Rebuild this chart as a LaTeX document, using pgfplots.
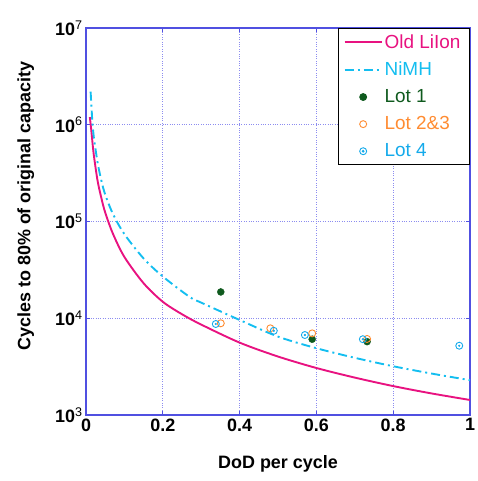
\documentclass[border=0pt]{standalone}
\usepackage{pgfplots}
\pgfplotsset{compat=1.18}
\usetikzlibrary{calc}
\usepackage{fontspec}
\setmainfont{Liberation Sans}
\definecolor{oldli}{RGB}{232,18,128}
\definecolor{nimh}{RGB}{20,190,240}
\definecolor{lotone}{RGB}{15,90,30}
\definecolor{lottwo}{RGB}{255,140,50}
\definecolor{lotfour}{RGB}{20,170,235}
\definecolor{axblue}{RGB}{80,80,225}
\definecolor{gridblue}{RGB}{140,140,240}
\pgfplotsset{
  markleg/.style={legend image code/.code={\draw[##1] plot coordinates {(18.5bp,0bp)};}},
  dotleg/.style={legend image code/.code={\draw[##1] plot coordinates {(18.5bp,0bp)}; \fill[lotfour] (18.5bp,0bp) circle (0.9bp);}},
}
\begin{document}
\begin{tikzpicture}
\begin{axis}[
  scale only axis, width=384bp, height=387bp,
  ymode=log, xmin=0, xmax=1, ymin=1e3, ymax=1e7,
  xtick={0,0.2,0.4,0.6,0.8,1}, xticklabels={0,0.2,0.4,0.6,0.8,1},
  ytick={1e3,1e4,1e5,1e6,1e7},
  yticklabels={10\textsuperscript{\mdseries 3},10\textsuperscript{\mdseries 4},10\textsuperscript{\mdseries 5},10\textsuperscript{\mdseries 6},10\textsuperscript{\mdseries 7}},
  /pgf/number format/assume math mode=true,
  ticklabel style={font=\bfseries\fontsize{18}{20}\selectfont},
  grid=major, major grid style={dotted, gridblue, line width=0.8pt},
  axis line style={axblue, line width=1.2pt},
  tick style={axblue, line width=1pt}, major tick length=4bp, minor tick length=0pt, tick align=inside,
  xlabel={DoD per cycle}, ylabel={Cycles to 80\% of original capacity},
  label style={font=\bfseries\fontsize{18}{20}\selectfont},
  xlabel style={at={(axis description cs:0.5,-0.127)}, anchor=center},
  ylabel style={at={(axis description cs:-0.157,0.54)}, anchor=center},
  legend style={at={(1,1)}, anchor=north east, draw=black, line width=0.8pt,
    font=\fontsize{19}{21}\selectfont, inner xsep=5bp, inner ysep=4bp, row sep=8.5bp},
  legend cell align=left,
  legend image code/.code={\draw[#1,mark=none] (0bp,0bp) -- (37bp,0bp);},
]
\coordinate (sw) at (rel axis cs:0,0);
\coordinate (ne) at (rel axis cs:1,1);
\addplot[oldli, line width=1.9pt, no marks, smooth] coordinates {
(0.01,1.2e6)(0.014,8.6e5)(0.02,5.0e5)(0.03,2.66e5)(0.04,1.75e5)(0.05,1.24e5)(0.07,7.5e4)
(0.1,4.3e4)(0.15,2.3e4)(0.2,1.48e4)(0.25,1.1e4)(0.3,8600)(0.4,5600)(0.5,4020)
(0.6,3060)(0.7,2435)(0.8,1990)(0.9,1670)(1.0,1430)};
\addlegendentry{\makebox[78bp][l]{\textcolor{oldli}{Old LiIon}}}
\addplot[nimh, line width=1.9pt, no marks, smooth, dash pattern=on 9bp off 4bp on 2bp off 4bp] coordinates {
(0.012,2.2e6)(0.017,1.0e6)(0.02,7.6e5)(0.03,4.1e5)(0.04,2.65e5)(0.05,1.9e5)(0.07,1.2e5)
(0.1,7.4e4)(0.15,4.15e4)(0.2,2.7e4)(0.27,1.66e4)(0.3,1.45e4)(0.4,9600)(0.5,6460)
(0.6,4900)(0.7,3900)(0.8,3190)(0.9,2680)(1.0,2290)};
\addlegendentry{\textcolor{nimh}{NiMH}}
\addplot[only marks, mark=*, mark size=3.5bp, lotone, mark options={fill=lotone}, markleg] coordinates {
(0.351,18700)(0.589,6070)(0.732,5730)};
\addlegendentry{\textcolor{lotone}{Lot 1}}
\addplot[only marks, mark=o, mark size=3.5bp, lottwo, line width=0.9pt, markleg] coordinates {
(0.351,8870)(0.480,7870)(0.589,6980)(0.732,6110)};
\addlegendentry{\textcolor{lottwo}{Lot 2\&3}}
\addplot[only marks, mark=o, mark size=3.5bp, lotfour, line width=0.9pt, dotleg] coordinates {
(0.338,8720)(0.489,7420)(0.570,6710)(0.721,6070)(0.972,5200)};
\addlegendentry{\textcolor{lotfour}{Lot 4}}
\addplot[only marks, mark=*, mark size=0.9bp, lotfour, forget plot] coordinates {
(0.338,8720)(0.489,7420)(0.570,6710)(0.721,6070)(0.972,5200)};
\end{axis}
\pgfresetboundingbox
\path ($(sw)+(-86bp,-66bp)$) rectangle ($(ne)+(7bp,28bp)$);
\end{tikzpicture}
\end{document}
